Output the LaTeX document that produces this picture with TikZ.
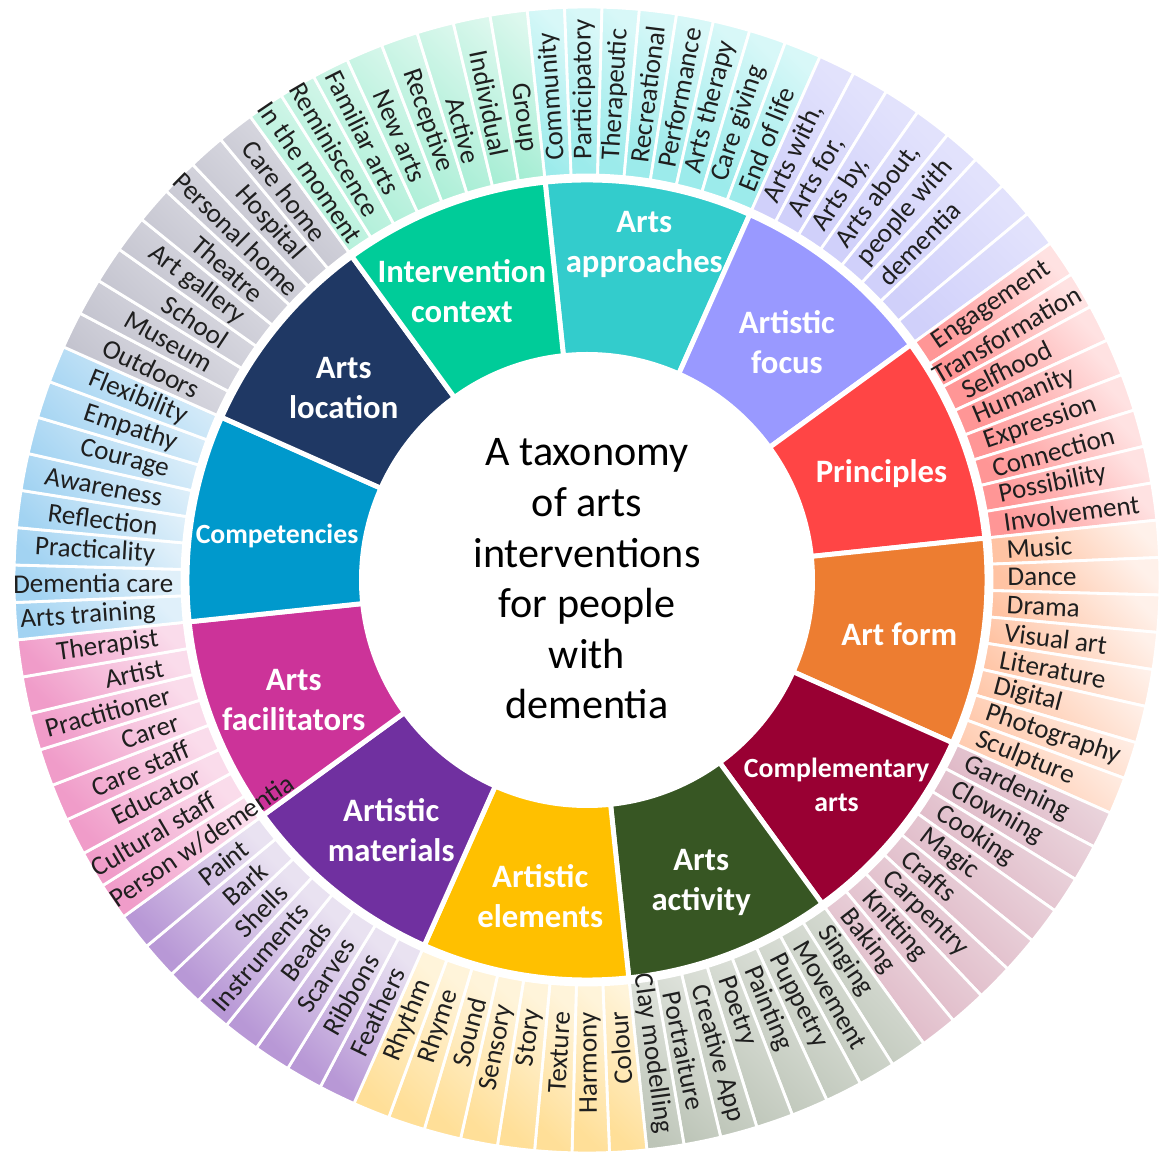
\documentclass[tikz,border=0pt]{standalone}
\usepackage{fontspec}
\setmainfont{Carlito}
\newcommand{\itemfont}{\fontsize{7.7}{9}\selectfont}
% radius for labels too long for the ring
\newcommand{\setr}[2]{\expandafter\def\csname rr@#1\endcsname{#2}}
\setr{Transformation}{4.02}\setr{Clay modelling}{3.97}
\setr{Person w/dementia}{3.57}\setr{Dementia care}{4.13}\setr{Personal home}{4.10}
\setr{In the moment}{4.10}\setr{Reminiscence}{4.23}
\definecolor{appr}{HTML}{33CCCC}\definecolor{apprD}{HTML}{9CEBEB}\definecolor{apprL}{HTML}{D8F8F8}
\definecolor{focus}{HTML}{9999FF}\definecolor{focusD}{HTML}{D0D0FA}\definecolor{focusL}{HTML}{E2E2FC}
\definecolor{princ}{HTML}{FF4545}\definecolor{princD}{HTML}{FF9696}\definecolor{princL}{HTML}{FFE2E2}
\definecolor{form}{HTML}{ED7D31}\definecolor{formD}{HTML}{FFC3A3}\definecolor{formL}{HTML}{FFF1EA}
\definecolor{compl}{HTML}{990033}\definecolor{complD}{HTML}{DCB0C0}\definecolor{complL}{HTML}{EDDCE2}
\definecolor{activ}{HTML}{375623}\definecolor{activD}{HTML}{BDC5B8}\definecolor{activL}{HTML}{DFE3DC}
\definecolor{elem}{HTML}{FFC000}\definecolor{elemD}{HTML}{FFDF98}\definecolor{elemL}{HTML}{FFF4DA}
\definecolor{mater}{HTML}{7030A0}\definecolor{materD}{HTML}{B898D6}\definecolor{materL}{HTML}{E9E2F1}
\definecolor{facil}{HTML}{CC3399}\definecolor{facilD}{HTML}{F09CC9}\definecolor{facilL}{HTML}{FADCEB}
\definecolor{compt}{HTML}{0099CC}\definecolor{comptD}{HTML}{A2D3F2}\definecolor{comptL}{HTML}{E0F0FA}
\definecolor{locat}{HTML}{1F3864}\definecolor{locatD}{HTML}{BDBDC9}\definecolor{locatL}{HTML}{E0E0E7}
\definecolor{contx}{HTML}{00CC99}\definecolor{contxD}{HTML}{A4EDD3}\definecolor{contxL}{HTML}{DDF8EE}
\tikzset{
  cat/.style={text=white, font=\bfseries\fontsize{9.3}{11.4}\selectfont, align=center, inner sep=0pt},
  catsm/.style={cat, font=\bfseries\fontsize{7.9}{9.7}\selectfont},
  item/.style={text=black!88, font=\itemfont, inner sep=0pt},
  wedge/.style={draw=white, line width=0.8pt},
  catwedge/.style={draw=white, line width=1.4pt}
}
\begin{document}
\begin{tikzpicture}
  \fill[white] (-5.87,-5.78) rectangle (5.74,5.80);
  \useasboundingbox (-5.87,-5.78) rectangle (5.74,5.80);
  % inner ring
  \foreach \k/\cf/\ang/\rad/\st/\txt in {
    0/appr/80.3/3.40/cat/{Arts\\approaches}, 1/focus/50.0/3.11/cat/{Artistic\\focus},
    2/princ/19.8/3.13/cat/{Principles}, 3/form/-9.8/3.17/cat/{Art form},
    4/compl/-39.4/3.23/catsm/{Complementary\\arts}, 5/activ/-69.3/3.23/cat/{Arts\\activity},
    6/elem/-98.4/3.20/cat/{Artistic\\elements}, 7/mater/-128.0/3.18/cat/{Artistic\\materials},
    8/facil/-157.7/3.17/cat/{Arts\\facilitators}, 9/compt/172.0/3.13/catsm/{Competencies},
    10/locat/141.7/3.10/cat/{Arts\\location}, 11/contx/113.4/3.15/cat/{Intervention\\context}}{
    \pgfmathsetmacro{\aa}{96-30*\k}
    \pgfmathsetmacro{\ab}{\aa-30}
    \filldraw[catwedge, fill=\cf] (\aa:2.20) arc[start angle=\aa, end angle=\ab, radius=2.20]
      -- (\ab:4.00) arc[start angle=\ab, end angle=\aa, radius=4.00] -- cycle;
    \node[\st] (cat-\k) at (\ang:\rad) {\txt};
  }
  \fill[white] (0,0) circle (2.28);
  \node[align=center, font=\fontsize{12}{14.4}\selectfont, text=black] (title) at (0,0.01)
    {A taxonomy\\of arts\\interventions\\for people\\with\\dementia};
  % outer ring
  \foreach \k/\dk/\lt/\items in {
    0/apprD/apprL/{Community,Participatory,Therapeutic,Recreational,Performance,Arts therapy,Care giving,End of life},
    1/focusD/focusL/{{Arts with,},{Arts for,},{Arts by,},{Arts about,},people with,dementia,{},{}},
    2/princD/princL/{Engagement,Transformation,Selfhood,Humanity,Expression,Connection,Possibility,Involvement},
    3/formD/formL/{Music,Dance,Drama,Visual art,Literature,Digital,Photography,Sculpture},
    4/complD/complL/{Gardening,Clowning,Cooking,Magic,Crafts,Carpentry,Knitting,Baking},
    5/activD/activL/{Singing,Movement,Puppetry,Painting,Poetry,Creative App,Portraiture,Clay modelling},
    6/elemD/elemL/{Colour,Harmony,Texture,Story,Sensory,Sound,Rhyme,Rhythm},
    7/materD/materL/{Feathers,Ribbons,Scarves,Beads,Instruments,Shells,Bark,Paint},
    8/facilD/facilL/{Person w/dementia,Cultural staff,Educator,Care staff,Carer,Practitioner,Artist,Therapist},
    9/comptD/comptL/{Arts training,Dementia care,Practicality,Reflection,Awareness,Courage,Empathy,Flexibility},
    10/locatD/locatL/{Outdoors,Museum,School,Art gallery,Theatre,Personal home,Hospital,Care home},
    11/contxD/contxL/{In the moment,Reminiscence,Familiar arts,New arts,Receptive,Active,Individual,Group}}{
    \foreach \lab [count=\i from 0] in \items {
      \pgfmathsetmacro{\aa}{96-30*\k-3.75*\i}
      \pgfmathsetmacro{\ab}{\aa-3.75}
      \pgfmathsetmacro{\am}{\aa-1.875}
      \shadedraw[wedge, bottom color=\dk, top color=\lt, shading angle=-45]
        (\aa:4.05) arc[start angle=\aa, end angle=\ab, radius=4.05]
        -- (\ab:5.73) arc[start angle=\ab, end angle=\aa, radius=5.73] -- cycle;
      \ifnum\k<6
        \ifcsname rr@\lab\endcsname \edef\rr{\csname rr@\lab\endcsname}\else \def\rr{4.2}\fi
        \node[item, anchor=west, rotate=\am] (it-\k-\i) at (\am:\rr) {\lab};
      \else
        \ifcsname rr@\lab\endcsname \edef\rr{\csname rr@\lab\endcsname}\else \def\rr{4.32}\fi
        \pgfmathsetmacro{\ar}{\am+180}
        \node[item, anchor=east, rotate=\ar] (it-\k-\i) at (\am:\rr) {\lab};
      \fi
    }
  }
\end{tikzpicture}
\end{document}
